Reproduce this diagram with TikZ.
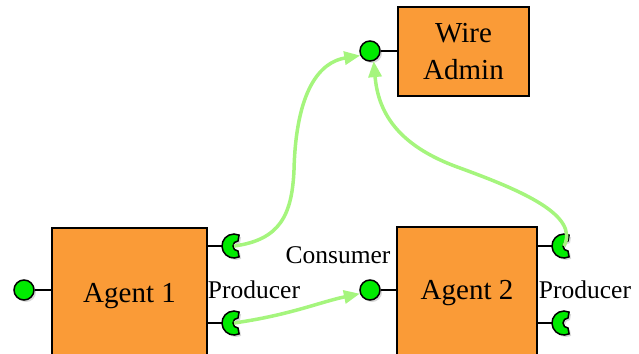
\documentclass[tikz,border=0pt]{standalone}
\usepackage{fontspec}
\setmainfont{Liberation Serif}
\usetikzlibrary{arrows.meta,shadows}
\definecolor{boxorange}{RGB}{250,155,55}
\definecolor{portgreen}{RGB}{0,235,0}
\definecolor{wiregreen}{RGB}{165,245,125}
\tikzset{
  agent/.style={draw,line width=2.5pt,fill=boxorange,align=center,inner sep=0pt,
    font=\fontsize{29}{37}\selectfont},
  inport/.style={circle,draw,line width=1.5pt,fill=portgreen,minimum size=20pt,inner sep=0pt,
    drop shadow={shadow xshift=2pt,shadow yshift=-2pt,fill=black!15,opacity=1}},
  label/.style={font=\fontsize{25.5}{30}\selectfont},
  stub/.style={line width=2pt},
  wire/.style={wiregreen,line width=3.5pt,-{Triangle[length=16pt,width=13pt]}},
  socket/.pic={
    \fill[black!15] (2,2) ++(65:12) arc[start angle=65,end angle=295,radius=12]
      -- (6,-3) arc[start angle=270,end angle=90,radius=5] -- cycle;
    \draw[line width=1.5pt,fill=portgreen] (65:12) arc[start angle=65,end angle=295,radius=12]
      -- (4,-5) arc[start angle=270,end angle=90,radius=5] -- cycle;
  }
}
\begin{document}
\begin{tikzpicture}[x=1pt,y=-1pt]
  \useasboundingbox (0,0) rectangle (639,353);
  \node[agent,minimum width=155pt,minimum height=136pt] (a1) at (129.5,296) {Agent 1};
  \node[agent,minimum width=140pt,minimum height=132pt] (a2) at (467,293) {Agent 2};
  \node[agent,minimum width=131pt,minimum height=89pt] (wa) at (463.5,51.5) {Wire\\Admin};
  % ports
  \node[inport] (a1in) at (24,290) {};
  \node[inport] (a2in) at (370,290) {};
  \node[inport] (wain) at (370,51) {};
  \draw[stub] (a1in) -- (a1in -| a1.west);
  \draw[stub] (a2in) -- (a2in -| a2.west);
  \draw[stub] (wain) -- (wain -| wa.west);
  \coordinate (a1out1) at (234,246);
  \coordinate (a1out2) at (234,323);
  \coordinate (a2out1) at (564,246);
  \coordinate (a2out2) at (564,323);
  \foreach \p/\b in {a1out1/a1,a1out2/a1,a2out1/a2,a2out2/a2}{
    \draw[stub] (\p -| \b.east) -- ++(15,0);
    \pic at (\p) {socket};
  }
  \node[label] (cons) at (338,255) {Consumer};
  \node[label] (prod1) at (254,290) {Producer};
  \node[label] (prod2) at (585,290) {Producer};
  % wires
  \draw[wire] (a1out1) .. controls (280,240) and (292,215) .. (294,170)
    .. controls (296,90) and (320,62) .. (wain.205);
  \draw[wire] (a1out2) .. controls (290,315) and (320,302) .. (a2in.200);
  \draw[wire] (a2out1) .. controls (580,215) and (520,190) .. (460,168)
    .. controls (395,145) and (378,110) .. (wain.290);
\end{tikzpicture}
\end{document}
